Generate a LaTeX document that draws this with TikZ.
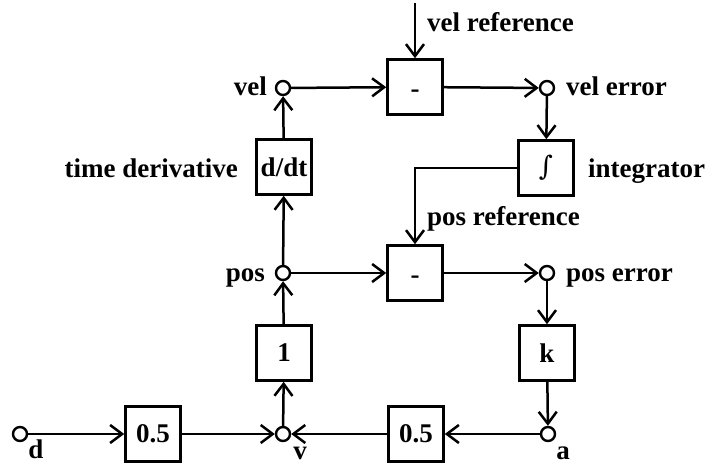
\documentclass[tikz,border=0pt]{standalone}
\usepackage{fontspec}
\setmainfont{Liberation Serif}
\newfontfamily\intfont{DejaVu Serif}
\usetikzlibrary{arrows.meta}
\newcommand{\minussign}{\smash{\raisebox{-10pt}{-}}}
\begin{document}
\begin{tikzpicture}[x=1pt,y=-1pt,
  font=\fontsize{27}{30}\selectfont\bfseries,
  blk/.style={draw, line width=2.6pt, minimum size=55pt, inner sep=0pt},
  jn/.style={draw, circle, fill=white, line width=2.4pt, minimum size=14pt, inner sep=0pt},
  flow/.style={line width=2.5pt, -{Straight Barb[length=12pt,width=18pt,line width=2.5pt]}},
  lbl/.style={inner sep=0pt}]
\useasboundingbox (0,0) rectangle (712,464);

% summing blocks and gains
\node[blk] (vm)  at (415,87)  {\minussign};
\node[blk] (pm)  at (415,273) {\minussign};
\node[blk] (ddt) at (284,167) {d/dt};
\node[blk] (int) at (546,168) {\intfont\mdseries ∫};
\node[blk] (one) at (284,353) {1};
\node[blk] (k)   at (547,353) {k};
\node[blk] (gl)  at (153,434) {0.5};
\node[blk] (gr)  at (416,434) {0.5};

% signal junctions
\node[jn] (vel)  at (283,88)  {};
\node[jn] (vele) at (547,88)  {};
\node[jn] (pos)  at (283,273) {};
\node[jn] (pose) at (547,273) {};
\node[jn] (d)    at (20,434)  {};
\node[jn] (v)    at (283,434) {};
\node[jn] (a)    at (548,434) {};
\coordinate (vref) at (415,3);

% signal flow
\draw[flow] (vref) -- (vm.north);
\draw[flow] (vel) -- (vm);
\draw[flow] (vm) -- (vele);
\draw[flow] (vele) -- (int);
\draw[flow] (int.west) -| (pm.north);
\draw[flow] (ddt) -- (vel);
\draw[flow] (pos) -- (ddt);
\draw[flow] (pos) -- (pm);
\draw[flow] (pm) -- (pose);
\draw[flow] (pose) -- (k);
\draw[flow] (k) -- (a);
\draw[flow] (a) -- (gr);
\draw[flow] (gr) -- (v);
\draw[flow] (d) -- (gl);
\draw[flow] (gl) -- (v);
\draw[flow] (v) -- (one);
\draw[flow] (one) -- (pos);

% signal names
\node[lbl, anchor=base west] (tvref) at (427,31)  {vel reference};
\node[lbl, anchor=base east] (tvel)  at (267,95)  {vel};
\node[lbl, anchor=base west] (tvele) at (566,95)  {vel error};
\node[lbl, anchor=base east] (tddt)  at (238,177) {time derivative};
\node[lbl, anchor=base west] (tint)  at (588,177) {integrator};
\node[lbl, anchor=base west] (tpref) at (427,225) {pos reference};
\node[lbl, anchor=base east] (tpos)  at (265,281) {pos};
\node[lbl, anchor=base west] (tpose) at (566,281) {pos error};
\node[lbl, anchor=base] (td) at (36,458) {d};
\node[lbl, anchor=base] (tv) at (300,459) {v};
\node[lbl, anchor=base] (ta) at (563,459) {a};
\end{tikzpicture}
\end{document}
